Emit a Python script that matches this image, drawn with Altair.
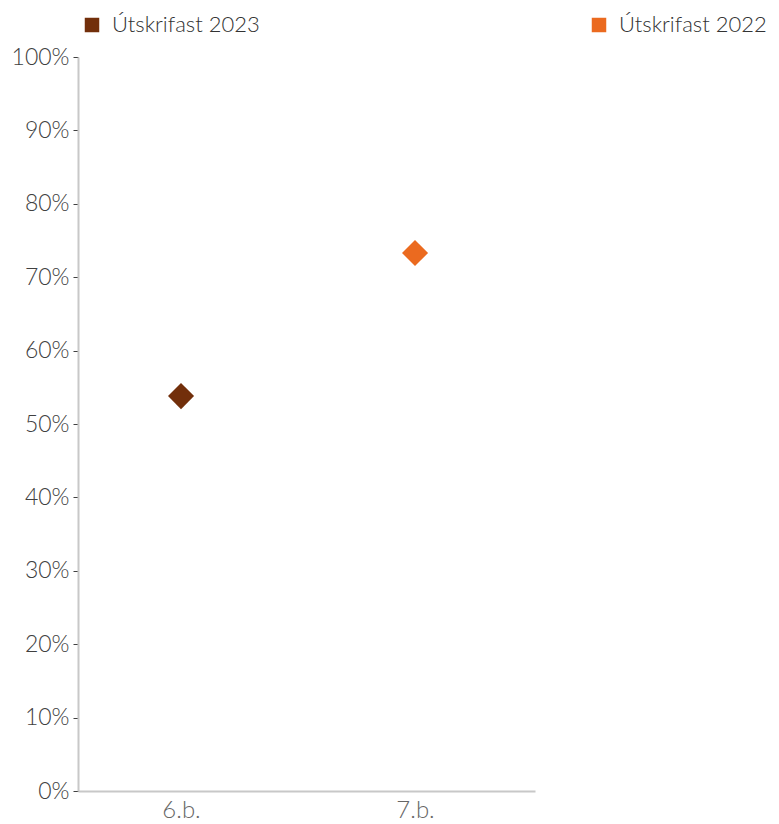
import altair as alt
import pandas as pd

categories = ["6.b.", "7.b."]
values = [0.538, 0.733]
series = ["Útskrifast 2023", "Útskrifast 2022"]
colors = ["#722F0B", "#EB6A1F"]

df = pd.DataFrame({"cat": categories, "val": values, "series": series})

chart = alt.Chart(df).mark_point(shape="diamond", filled=True, size=680, opacity=1).encode(
    x=alt.X("cat:N", title=None, sort=categories,
            scale=alt.Scale(type="point", padding=0.4765, align=0.462),
            axis=alt.Axis(labelAngle=0, ticks=False, domainColor="#c8c8c8", domainWidth=2,
                          labelColor="#666666", labelFontSize=24, labelFontWeight=300,
                          labelPadding=7)),
    y=alt.Y("val:Q", title=None,
            scale=alt.Scale(domain=[0, 1]),
            axis=alt.Axis(format=".0%", values=[i / 10 for i in range(11)], grid=False,
                          domainColor="#c8c8c8", domainWidth=2, tickColor="#404040",
                          tickSize=5, labelColor="#404040", labelFontSize=23,
                          labelFontWeight=300, labelPadding=4)),
    color=alt.Color("series:N", sort=series,
                    scale=alt.Scale(domain=series, range=colors),
                    legend=alt.Legend(title=None, orient="none", legendX=3, legendY=-43,
                                      direction="horizontal", columns=2, columnPadding=328,
                                      symbolType="square", symbolSize=210, symbolOpacity=1,
                                      labelFontSize=22, labelFontWeight=300,
                                      labelColor="#333333", labelOffset=9)),
).properties(width=457, height=734, padding={"left": 3, "top": 6, "right": 0, "bottom": 0}).configure(
    font="Lato"
).configure_view(stroke=None)

chart.save("out.html", embed_options={"renderer": "svg", "actions": False})
